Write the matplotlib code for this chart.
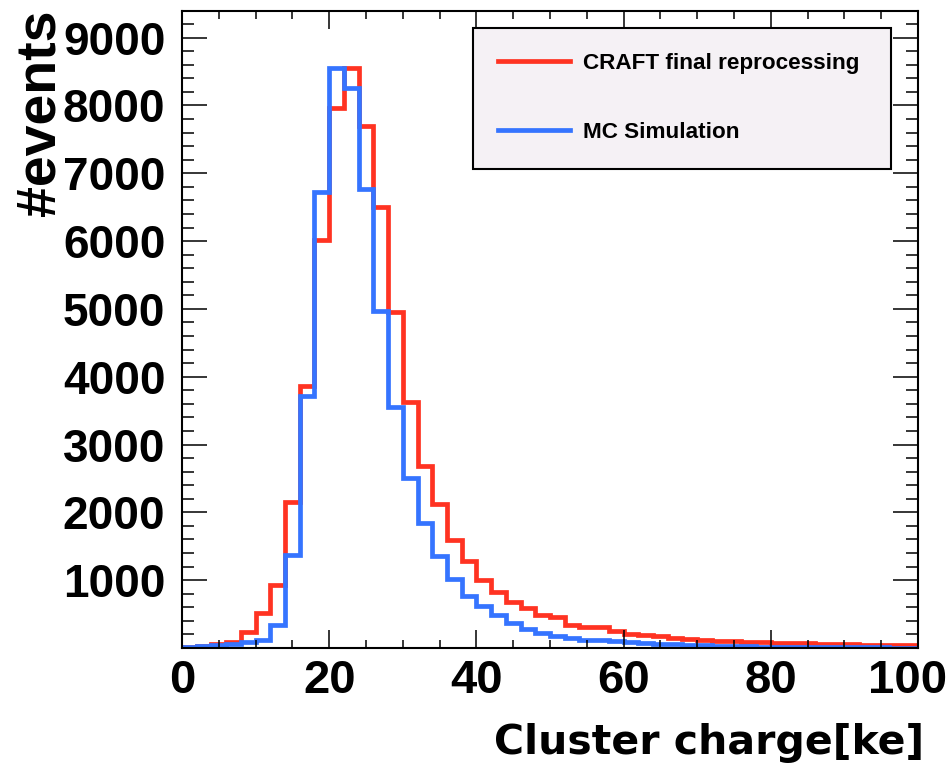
import numpy as np
import matplotlib
matplotlib.use('Agg')
import matplotlib.pyplot as plt
import matplotlib.transforms as mtransforms
from matplotlib.ticker import MultipleLocator, FixedLocator
from matplotlib.lines import Line2D

# Bin edges of the cluster charge histogram [ke]
bin_edges = np.arange(0, 102, 2)

# CRAFT final reprocessing, events per bin
craft_counts = [20, 30, 60, 90, 230, 515, 935, 2160, 3870, 6020,
                7960, 8550, 7700, 6510, 4960, 3630, 2680, 2130, 1590, 1280,
                1000, 820, 685, 585, 480, 455, 335, 310, 305, 245,
                210, 195, 170, 145, 135, 120, 110, 100, 90, 85,
                78, 72, 68, 62, 58, 54, 50, 48, 45, 42]

# MC simulation, events per bin
mc_counts = [15, 30, 50, 65, 90, 125, 335, 1370, 3710, 6720,
             8550, 8260, 6770, 4970, 3550, 2510, 1850, 1360, 1015, 770,
             615, 480, 370, 285, 225, 175, 150, 122, 112, 98,
             88, 78, 63, 54, 49, 40, 35, 30, 25, 22,
             20, 18, 15, 12, 10, 10, 8, 8, 7, 6]

x_ticks = [0, 20, 40, 60, 80, 100]
y_ticks = [1000, 2000, 3000, 4000, 5000, 6000, 7000, 8000, 9000]

red = '#ff3322'
blue = '#3574ff'
font = 'Liberation Sans'

fig = plt.figure(figsize=(9.5, 7.67), dpi=100)
ax = fig.add_axes([182 / 950, 119 / 767, 736 / 950, 637 / 767])

ax.stairs(craft_counts, bin_edges, color=red, linewidth=3.4, baseline=None)
ax.stairs(mc_counts, bin_edges, color=blue, linewidth=3.4, baseline=None)

ax.set_xlim(0, 100)
ax.set_ylim(0, 9393)

ax.xaxis.set_major_locator(FixedLocator(x_ticks))
ax.xaxis.set_minor_locator(MultipleLocator(5))
ax.yaxis.set_major_locator(FixedLocator([0] + y_ticks))
ax.yaxis.set_minor_locator(MultipleLocator(200))
ax.set_yticklabels([''] + [str(v) for v in y_ticks])
ax.set_xticklabels([str(v) for v in x_ticks])

ax.tick_params(axis='both', which='both', direction='in', top=True, right=True,
               width=1.1, colors='black')
ax.tick_params(axis='y', which='major', length=18, pad=12)
ax.tick_params(axis='y', which='minor', length=8.5)
ax.tick_params(axis='x', which='major', length=13, pad=8)
ax.tick_params(axis='x', which='minor', length=6)

for lbl in ax.get_yticklabels():
    lbl.set_fontfamily(font)
    lbl.set_fontweight('bold')
    lbl.set_fontsize(33)
for lbl in ax.get_xticklabels():
    lbl.set_fontfamily(font)
    lbl.set_fontweight('bold')
    lbl.set_fontsize(34)

# ROOT nudges the last x label inwards
last = ax.xaxis.get_major_ticks()[-1].label1
last.set_transform(last.get_transform() +
                   mtransforms.ScaledTranslation(-10 / 100, 0, fig.dpi_scale_trans))

for sp in ax.spines.values():
    sp.set_linewidth(1.5)

fig.text(924 / 950, 4 / 767, 'Cluster charge[ke]', ha='right', va='bottom',
         fontsize=29.5, fontweight='bold', fontfamily='DejaVu Sans')
fig.text(14 / 950, 1 - 10 / 767, '#events', ha='left', va='top', rotation=90,
         fontsize=40, fontweight='bold', fontfamily=font)

handles = [Line2D([], [], color=red, linewidth=3.4),
           Line2D([], [], color=blue, linewidth=3.4)]
leg = ax.legend(handles, ['CRAFT final reprocessing', 'MC Simulation'],
                loc='upper left', bbox_to_anchor=(0.395, 0.756, 0.568, 0.218),
                mode='expand', borderaxespad=0, fancybox=False, framealpha=1,
                facecolor='#f5f1f5', edgecolor='black', handlelength=3.2,
                handletextpad=0.55, labelspacing=2.14, borderpad=1.14,
                prop={'family': font, 'weight': 'bold', 'size': 16.2})
leg.get_frame().set_linewidth(1.5)

fig.savefig('out.png', dpi=100)
